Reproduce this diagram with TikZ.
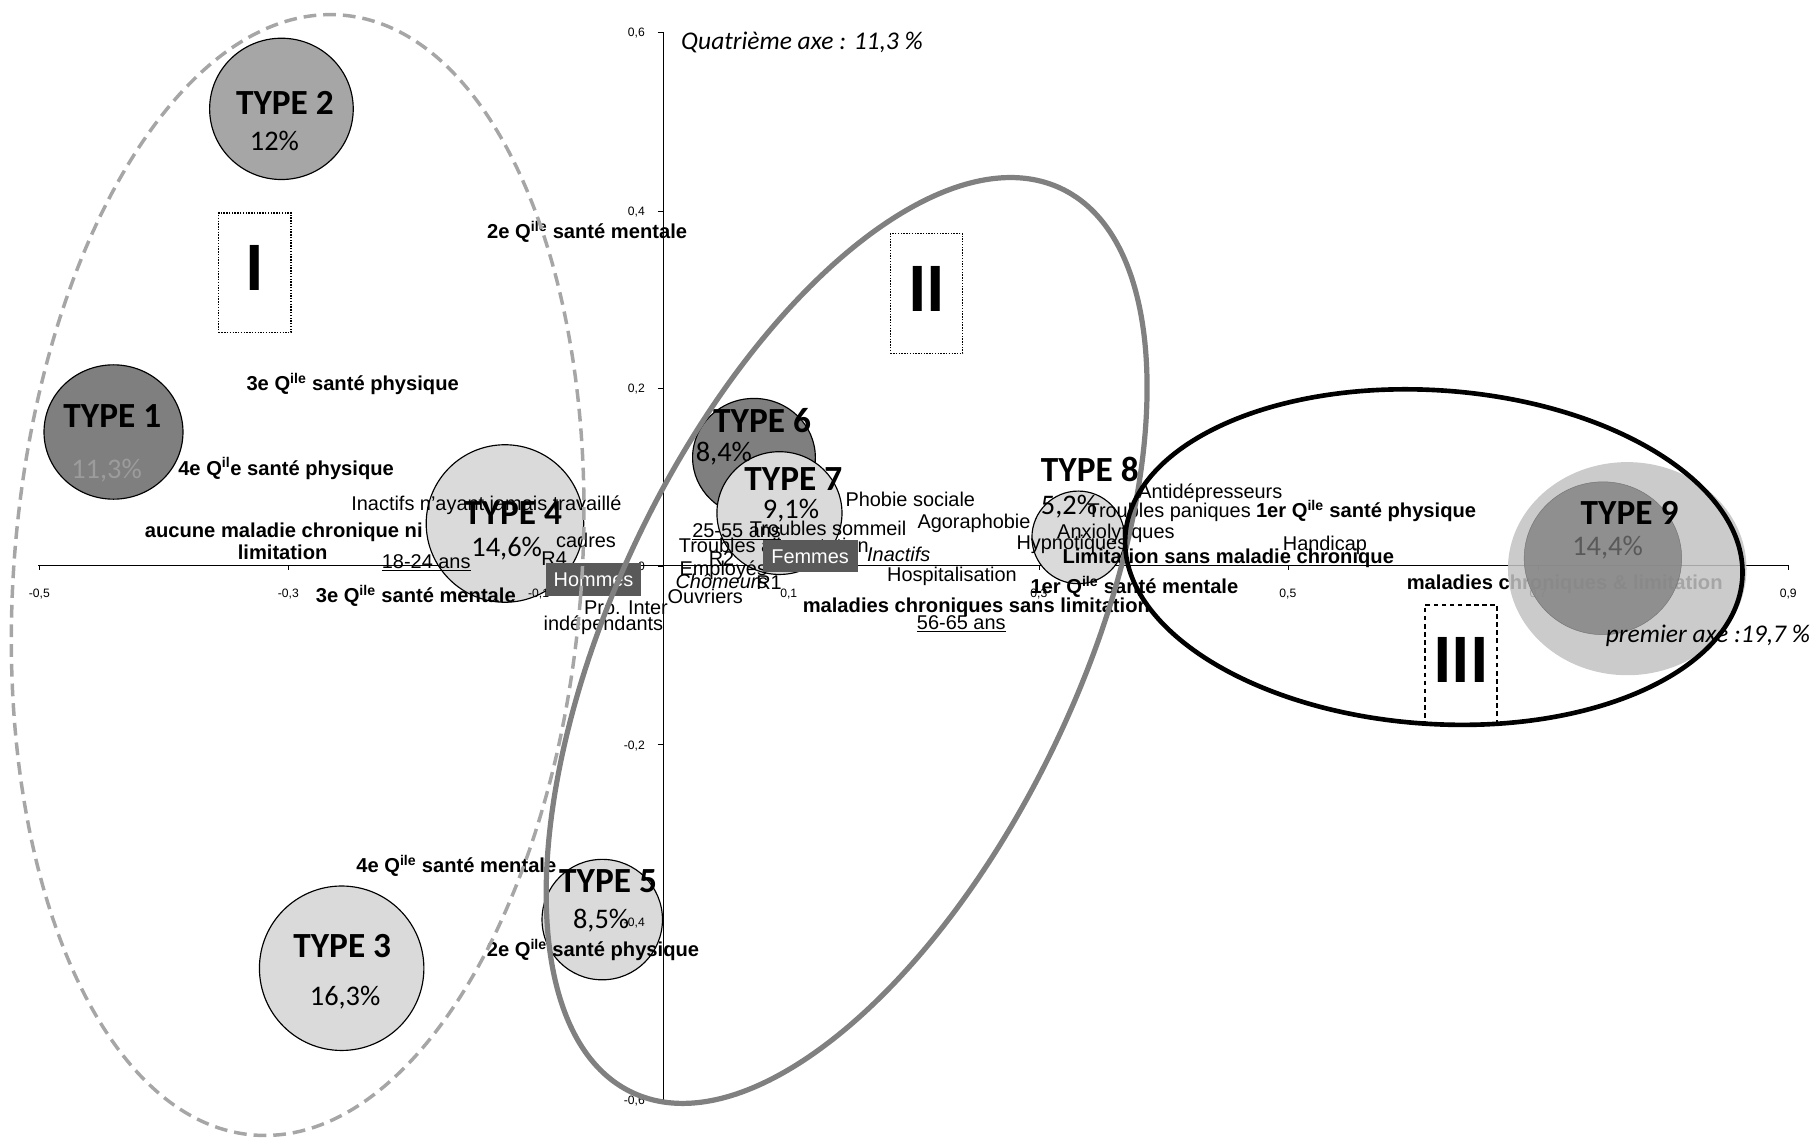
\documentclass[tikz,border=0pt]{standalone}
\usepackage{fontspec}
\setmainfont{Liberation Sans}
\newfontfamily\calib{Carlito}
\definecolor{darkfill}{HTML}{7F7F7F}
\definecolor{midfill}{HTML}{A6A6A6}
\definecolor{lightfill}{HTML}{DADADA}
\definecolor{outerfill}{HTML}{C2C2C2}
\definecolor{ringgray}{HTML}{808080}
\definecolor{dashgray}{HTML}{A6A6A6}
\definecolor{boxgray}{HTML}{595959}
\definecolor{pctgray}{HTML}{9C9C9C}
\begin{document}
\begin{tikzpicture}[x=1pt,y=-1pt,
  lab/.style={inner sep=0pt,text height=12.3pt,text depth=0pt,font=\fontsize{17.2}{19}\selectfont},
  blab/.style={inner sep=0pt,text height=12.5pt,text depth=0pt,font=\bfseries\fontsize{17.4}{19}\selectfont},
  typ/.style={inner sep=0pt,text height=19.6pt,text depth=0pt,font=\calib\bfseries\fontsize{30.5}{31}\selectfont},
  pct/.style={inner sep=0pt,text height=15.6pt,text depth=0pt,font=\calib\fontsize{24.5}{25}\selectfont},
  tick/.style={inner sep=0pt,text height=7.5pt,text depth=0pt,font=\fontsize{10.5}{11}\selectfont},
  axe/.style={inner sep=0pt,text height=14.2pt,text depth=0pt,font=\calib\itshape\fontsize{22}{23}\selectfont},
  sexe/.style={fill=boxgray,text=white,inner sep=0pt,minimum width=82pt,minimum height=28pt,text height=12.3pt,text depth=0pt,font=\fontsize{17.2}{19}\selectfont},
  zone/.style={draw,line width=1.3pt,minimum width=62.5pt,minimum height=103.5pt,inner sep=0pt,text height=38.6pt,text depth=8pt,font=\calib\bfseries\fontsize{60}{60}\selectfont},
  bulle/.style={draw=black,line width=1pt},
]
\useasboundingbox (0,0) rectangle (1568,983);

% axes
\draw[line width=0.8pt] (33,488) -- (1544,488);
\draw[line width=0.8pt] (573,28) -- (573,950);
\foreach \x in {34,249,465,681,897,1112,1328,1544}
  \draw (\x,488) -- (\x,492);
\foreach \y in {28,182,335,489,643,796,950}
  \draw (568,\y) -- (573,\y);

% bulles des types
\draw[bulle,fill=midfill] (243,94) ellipse [x radius=62,y radius=61];
\draw[bulle,fill=darkfill] (98,373) ellipse [x radius=60,y radius=58];
\draw[bulle,fill=lightfill] (436,452) ellipse [x radius=68,y radius=68];
\draw[bulle,fill=lightfill] (295,836) ellipse [x radius=71,y radius=71];
\draw[bulle,fill=lightfill] (520,794) ellipse [x radius=52,y radius=52];
\draw[bulle,fill=darkfill] (651,395) ellipse [x radius=53,y radius=51];
\draw[bulle,fill=lightfill] (673,443) ellipse [x radius=54,y radius=53];
\draw[bulle,fill=lightfill] (931,464) ellipse [x radius=40,y radius=40];

% graduations
\foreach \x/\t [count=\i] in {34/{-0,5},249/{-0,3},465/{-0,1},681/{0,1},897/{0,3},1112/{0,5},1328/{0,7},1544/{0,9}}
  \node[tick] (gx\i) at (\x,512) {\t};
\foreach \y/\t [count=\i] in {28/{0,6},182/{0,4},335/{0,2},489/{0},643/{-0,2},796/{-0,4},950/{-0,6}}
  \node[tick,anchor=east] (gy\i) at (557,\y) {\t};

% modalites
\node[lab] (inact) at (420,434.5) {Inactifs n'ayant jamais travaillé};
\node[lab] (cadres) at (506,467) {cadres};
\node[lab] (age1) at (368,485) {\underline{18-24 ans}};
\node[lab] (r4) at (478.5,482) {R4};
\node[lab] (prointer) at (540.5,524) {Pro. Inter};
\node[lab] (indep) at (521,538) {indépendants};
\node[lab] (ouvr) at (609,515) {Ouvriers};
\node[lab,font=\itshape\fontsize{17.2}{19}\selectfont] (chom) at (623,502) {Chômeurs};
\node[lab] (r1) at (664,502.5) {R1};
\node[lab] (empl) at (624.5,491) {Employés};
\node[lab] (r2) at (623,482) {R2};
\node[lab,anchor=west] (tali) at (586,471) {Troubles alimentation};
\node[lab] (age2) at (636,458) {\underline{25-55 ans}};
\node[lab] (somm) at (715,456) {Troubles sommeil};
\node[lab] (phob) at (786,431) {Phobie sociale};
\node[lab] (agora) at (841,450.5) {Agoraphobie};
\node[lab,font=\itshape\fontsize{17.2}{19}\selectfont] (inacf) at (776,479) {Inactifs};
\node[lab] (hosp) at (822,496) {Hospitalisation};
\node[lab] (age3) at (830,537) {\underline{56-65 ans}};
\node[lab] (antid) at (1045,424.5) {Antidépresseurs};
\node[lab] (panic) at (1009.5,441) {Troubles paniques};
\node[lab] (anxio) at (963.5,459) {Anxiolytiques};
\node[lab] (hypno) at (925.5,468.5) {Hypnotiques};
\node[lab] (handi) at (1144,469) {Handicap};

\node[blab] (m2) at (507,200) {2e Q\textsuperscript{ile} santé mentale};
\node[blab] (p3) at (304.5,331) {3e Q\textsuperscript{ile} santé physique};
\node[blab] (p4) at (247,404) {4e Q\textsuperscript{il}e santé physique};
\node[blab] (nomal1) at (245,457.5) {aucune maladie chronique ni};
\node[blab] (nomal2) at (244,476.5) {limitation};
\node[blab] (m3) at (359,514) {3e Q\textsuperscript{ile} santé mentale};
\node[blab] (m4) at (394,747) {4e Q\textsuperscript{ile} santé mentale};
\node[blab] (p2) at (512,820) {2e Q\textsuperscript{ile} santé physique};
\node[blab] (mcsl) at (843,522.5) {maladies chroniques sans limitation};
\node[blab] (m1) at (979.5,506.5) {1er Q\textsuperscript{ile} santé mentale};
\node[blab] (lsmc) at (1060.5,480.5) {Limitation sans maladie chronique};
\node[blab] (p1) at (1179.5,441) {1er Q\textsuperscript{ile} santé physique};
\node[blab] (mcl) at (1351,502.5) {maladies chroniques \& limitation};

\node[sexe] (hommes) at (512.5,500.5) {Hommes};
\node[sexe] (femmes) at (699.5,480) {Femmes};

% type 9
\fill[outerfill,opacity=0.85] (1405,491) ellipse [x radius=103,y radius=92];
\draw[draw=darkfill!85!black,fill=darkfill!95!white,opacity=0.85] (1384,482) ellipse [x radius=68,y radius=66];

% types
\node[typ] (t2) at (246,89) {TYPE 2};
\node[pct] (c2) at (237,122) {12\%};
\node[typ] (t1) at (97,359) {TYPE 1};
\node[pct,text=pctgray] (c1) at (92,405) {11,3\%};
\node[typ] (t4) at (443,443) {TYPE 4};
\node[pct] (c4) at (437.5,473) {14,6\%};
\node[typ] (t3) at (295.5,817) {TYPE 3};
\node[pct] (c3) at (298,860) {16,3\%};
\node[typ] (t5) at (525,761) {TYPE 5};
\node[pct] (c5) at (519,794) {8,5\%};
\node[typ] (t6) at (658,364) {TYPE 6};
\node[pct] (c6) at (625,391) {8,4\%};
\node[typ] (t7) at (685,414) {TYPE 7};
\node[pct] (c7) at (683,440) {9,1\%};
\node[typ] (t8) at (941,406) {TYPE 8};
\node[pct] (c8) at (923,436) {5,2\%};
\node[typ] (t9) at (1407,443) {TYPE 9};
\node[pct,text=boxgray] (c9) at (1388,472) {14,4\%};

% titres des axes
\node[axe,anchor=west] (axe4) at (588,36) {Quatrième axe : 11,3 \%};
\node[axe,anchor=east] (axe1) at (1563,548) {premier axe :19,7 \%};

% zones
\node[zone,dash pattern=on 1.2pt off 1.2pt] (zoneI) at (220,235.5) {I};
\node[zone,dash pattern=on 1.2pt off 1.2pt] (zoneII) at (800,253.5) {II};
\node[zone,dash pattern=on 4pt off 3pt] (zoneIII) at (1261.5,574) {III};

\draw[dashgray,line width=3pt,dash pattern=on 11pt off 6pt,rotate around={-4.5:(257,496.5)}] (257,496.5) ellipse [x radius=245,y radius=485];
\draw[ringgray,line width=4.5pt,rotate around={64.6:(731,553)}] (731,553) ellipse [x radius=432,y radius=201];
\draw[black,line width=4pt,rotate around={-4:(1238,481)}] (1238,481) ellipse [x radius=267,y radius=144];
\end{tikzpicture}
\end{document}
